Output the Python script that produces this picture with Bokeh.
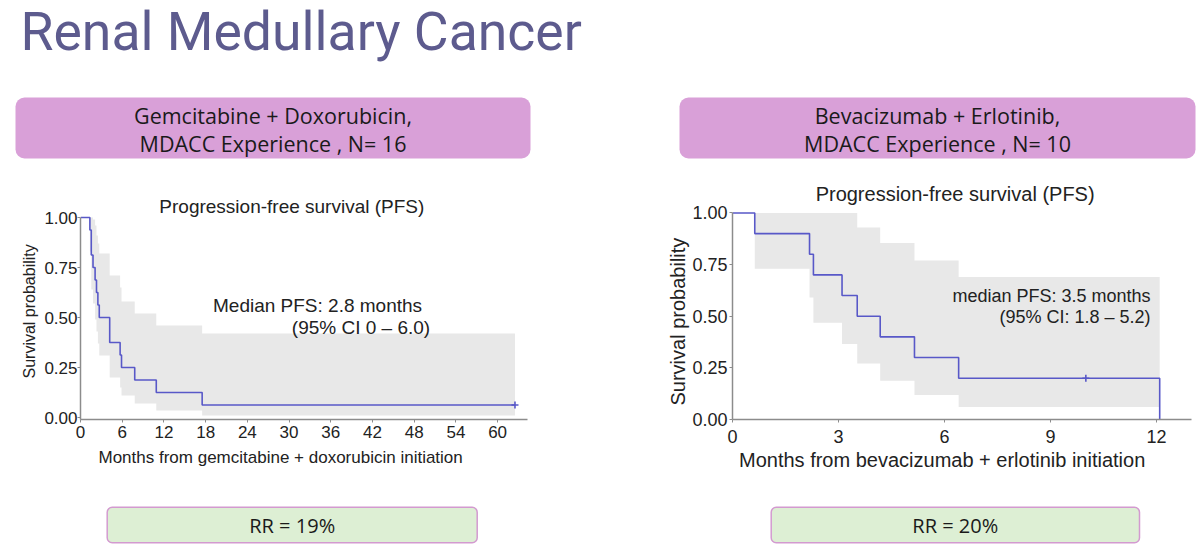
from bokeh.plotting import figure
from bokeh.layouts import column, row
from bokeh.models import Range1d, FixedTicker, PrintfTickFormatter, Title
from bokeh.core.properties import value
from bokeh.embed import file_html
from bokeh.resources import INLINE

# ---------------- data ----------------
slide_title = "Renal Medullary Cancer"
left_header = ["Gemcitabine + Doxorubicin,", "MDACC Experience , N= 16"]
right_header = ["Bevacizumab + Erlotinib,", "MDACC Experience , N= 10"]
left_rr = "RR = 19%"
right_rr = "RR = 20%"
plot_title = "Progression-free survival (PFS)"

# Gemcitabine + Doxorubicin (N=16)
gd_times = [0, 1.35, 1.55, 1.8, 2.1, 2.3, 2.5, 2.7, 4.2, 5.7, 5.9, 7.8, 10.9, 17.5, 62.5]
gd_surv = [1.0, 0.9375, 0.8125, 0.75, 0.6875, 0.625, 0.5625, 0.5, 0.375, 0.3125, 0.25, 0.1875, 0.125, 0.0625, 0.0625]
gd_upper = [1.0, 1.0, 1.0, 0.99, 0.96, 0.91, 0.87, 0.82, 0.71, 0.65, 0.58, 0.52, 0.46, 0.42, 0.42]
gd_lower = [1.0, 0.83, 0.64, 0.57, 0.49, 0.43, 0.37, 0.31, 0.20, 0.15, 0.11, 0.07, 0.035, 0.01, 0.01]
gd_censor_t = [62.5]
gd_censor_s = [0.0625]
gd_xticks = [0, 6, 12, 18, 24, 30, 36, 42, 48, 54, 60]
gd_xlabel = "Months from gemcitabine + doxorubicin initiation"
gd_note = ["Median PFS: 2.8 months", "(95% CI 0 \u2013 6.0)"]

# Bevacizumab + Erlotinib (N=10)
be_times = [0, 0.63, 2.18, 2.29, 3.1, 3.53, 4.18, 5.15, 6.4, 12.09]
be_surv = [1.0, 0.9, 0.8, 0.7, 0.6, 0.5, 0.4, 0.3, 0.2, 0.0]
be_upper = [1.0, 1.0, 1.0, 1.0, 1.0, 0.93, 0.855, 0.77, 0.69, 0.69]
be_lower = [1.0, 0.73, 0.59, 0.468, 0.365, 0.271, 0.187, 0.118, 0.061, 0.061]
be_censor_t = [10.0]
be_censor_s = [0.2]
be_xticks = [0, 3, 6, 9, 12]
be_xlabel = "Months from bevacizumab + erlotinib initiation"
be_note = ["median PFS: 3.5 months", "(95% CI: 1.8 \u2013 5.2)"]

y_ticks = [0, 0.25, 0.5, 0.75, 1.0]
y_label = "Survival probability"

# ---------------- styles ----------------
LINE = "#5858c8"
BAND = "#e8e8e8"
AXIS = "#8c8c8c"
TXT = "#222222"
KMFONT = "Liberation Sans"
BOXFONT = "Open Sans"
PURPLE = "#d9a0d8"
GREEN = "#ddefd4"
GREEN_EDGE = "#d39ad0"


def blank(width, height, xr, yr):
    p = figure(width=width, height=height, x_range=xr, y_range=yr,
               output_backend="svg", toolbar_location=None, min_border=0)
    p.axis.visible = False
    p.grid.visible = False
    p.outline_line_color = None
    p.background_fill_color = "white"
    p.border_fill_color = "white"
    return p


# ---------------- top: slide title + header boxes ----------------
top = blank(1196, 170, Range1d(0, 1196), Range1d(-170, 0))
top.text(x=[20], y=[-31], text=[slide_title], text_align="left",
         text_baseline="middle", text_font=value("Roboto"),
         text_font_size=value("53.5px"), text_color="#5d5b8e")
top.quad(left=[15, 679], right=[530, 1195], top=[-97, -97], bottom=[-158, -158],
         fill_color=PURPLE, line_color=None, border_radius=9)
for cx, lines in ((272.5, left_header), (937, right_header)):
    top.text(x=[cx, cx], y=[-115, -143], text=lines, text_align="center",
             text_baseline="middle", text_font=value(BOXFONT),
             text_font_size=value("21.5px"), text_color="#1a1a1a")


# ---------------- KM plots ----------------
def km(width, height, xr, yr, borders, times, surv, up, lo, ct, cs, xticks,
       xlabel, tick_px, lab_px, ylab_px, x_std, y_std,
       xt_off, xt_std, yt_off, yt_std):
    p = figure(width=width, height=height, x_range=xr, y_range=yr,
               output_backend="svg", toolbar_location=None)
    p.min_border_left, p.min_border_right, p.min_border_top, p.min_border_bottom = borders
    p.grid.visible = False
    p.outline_line_color = None
    p.background_fill_color = "white"
    p.border_fill_color = "white"
    p.varea_step(x=times, y1=lo, y2=up, step_mode="after", fill_color=BAND)
    p.step(x=times, y=surv, mode="after", line_color=LINE, line_width=1.6)
    p.scatter(x=ct, y=cs, marker="cross", size=7, line_color=LINE, line_width=1.6)
    p.xaxis.ticker = FixedTicker(ticks=xticks)
    p.yaxis.ticker = FixedTicker(ticks=y_ticks)
    p.yaxis.formatter = PrintfTickFormatter(format="%.2f")
    p.yaxis.bounds = (yr.start, 1.0)
    for ax in (p.xaxis[0], p.yaxis[0]):
        ax.axis_line_color = AXIS
        ax.axis_line_width = 1.5
        ax.major_tick_line_color = AXIS
        ax.major_tick_out = 3
        ax.major_tick_in = 0
        ax.minor_tick_line_color = None
        ax.major_label_text_font = KMFONT
        ax.major_label_text_font_size = tick_px
        ax.major_label_text_color = TXT
    p.xaxis.major_label_standoff = x_std
    p.yaxis.major_label_standoff = y_std
    xt = Title(text=xlabel, align="left", offset=xt_off, standoff=xt_std,
               vertical_align="top", text_font=KMFONT, text_font_size=lab_px,
               text_font_style="normal", text_color=TXT)
    p.add_layout(xt, "below")
    yt = Title(text=y_label, align="left", offset=yt_off, standoff=yt_std,
               vertical_align="bottom", text_font=KMFONT, text_font_size=ylab_px,
               text_font_style="normal", text_color=TXT)
    p.add_layout(yt, "left")
    return p


# both frames span page y 180..419 (rows align plot frames)
left = km(600, 312, Range1d(0, 64.3), Range1d(-0.01, 1.185), (80, 73, 10, 63),
          gd_times, gd_surv, gd_upper, gd_lower, gd_censor_t, gd_censor_s,
          gd_xticks, gd_xlabel, "17px", "17px", "16px", 3, 0,
          18, 14, 41, 7)
left.text(x=[30.4], y=[1.055], text=[plot_title], text_align="center",
          text_baseline="middle", text_font=value(KMFONT),
          text_font_size=value("19px"), text_color=TXT)
left.text(x=[19.06, 30.4], y=[0.5625, 0.45], text=gd_note, text_align="left",
          text_baseline="middle", text_font=value(KMFONT),
          text_font_size=value("19px"), text_color=TXT)

right = km(596, 312, Range1d(0, 12.99), Range1d(0.0, 1.157), (132, 5, 10, 63),
           be_times, be_surv, be_upper, be_lower, be_censor_t, be_censor_s,
           be_xticks, be_xlabel, "18px", "20px", "20px", 7, 2,
           6.5, 6, 14, 2)
right.text(x=[6.30], y=[1.094], text=[plot_title], text_align="center",
           text_baseline="middle", text_font=value(KMFONT),
           text_font_size=value("20px"), text_color=TXT)
right.text(x=[11.83, 11.83], y=[0.597, 0.497], text=be_note, text_align="right",
           text_baseline="middle", text_font=value(KMFONT),
           text_font_size=value("18px"), text_color=TXT)

# ---------------- bottom: RR boxes ----------------
bottom = blank(1196, 66, Range1d(0, 1196), Range1d(-548, -482))
bottom.quad(left=[106.7, 770.7], right=[476.7, 1139], top=[-506.7, -506.7],
            bottom=[-542.3, -542.3], fill_color=GREEN, line_color=GREEN_EDGE,
            line_width=1.5, border_radius=5)
bottom.text(x=[291.7, 954.8], y=[-525, -525], text=[left_rr, right_rr],
            text_align="center", text_baseline="middle",
            text_font=value(BOXFONT), text_font_size=value("20px"),
            text_color="#1a1a1a")

layout = column(top, row(left, right), bottom)
open("out.html", "w").write(file_html(layout, INLINE))
